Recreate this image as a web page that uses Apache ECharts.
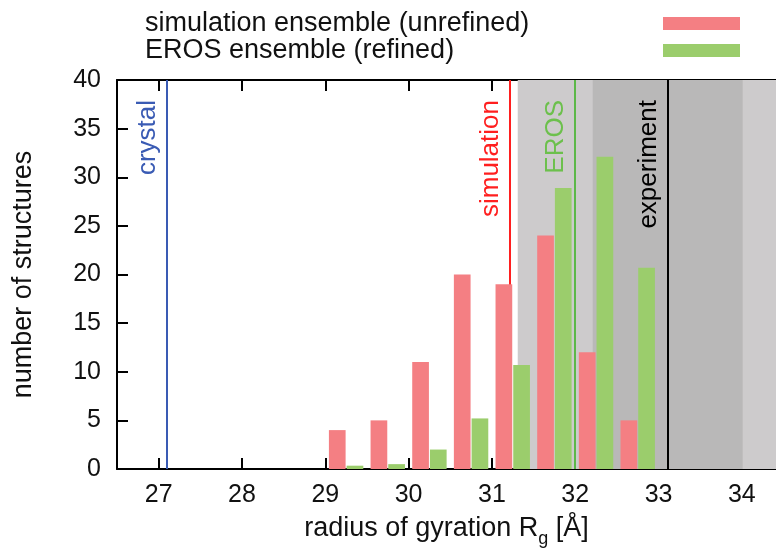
<!DOCTYPE html>
<html>
<head>
<meta charset="utf-8">
<script src="https://cdn.jsdelivr.net/npm/echarts@6/dist/echarts.min.js"></script>
<style>html,body{margin:0;padding:0;background:#fff}#c{width:776px;height:553px}</style>
</head>
<body>
<div id="c"></div>
<script>
// histogram bin centres (radius of gyration, Å)
const binCenters = [29.25, 29.75, 30.25, 30.75, 31.25, 31.75, 32.25, 32.75];
// number of structures per bin
const simCounts  = [4, 5, 11, 20, 19, 24, 12, 5];
const erosCounts = [0.34, 0.5, 2.0, 5.2, 10.7, 28.9, 32.1, 20.7];
// reference values
const refNames  = ['crystal', 'simulation', 'EROS', 'experiment'];
const refValues = [27.1, 31.22, 31.99, 33.11];
const refColors = ['#3a5bb4', '#ff1f1f', '#5cb848', '#000000'];
const refLabelColors = ['#3a5bb4', '#ff1f1f', '#6cc04c', '#000000'];
// experimental uncertainty bands (Å)
const expValue = 33.11;
const band1 = 0.9;
const band2 = 1.8;
const xRange = [26.5, 34.41];
const yRange = [0, 40];

const FONT = "'Liberation Sans', Arial, Helvetica, sans-serif";
const FS = 27;
const FS_TICK = 25;
const FS_REF = 26;

const chart = echarts.init(document.getElementById('c'), null, {renderer: 'canvas'});

const axisLineStyle = {color: '#000', width: 2};

const option = {
  animation: false,
  backgroundColor: '#fff',
  textStyle: {fontFamily: FONT, color: '#000'},
  grid: {left: 117, top: 80, right: 0, bottom: 84, containLabel: false},
  legend: {
    orient: 'vertical',
    left: 145,
    top: 10,
    padding: 0,
    itemGap: 0,
    align: 'right',
    icon: 'rect',
    itemWidth: 77,
    itemHeight: 13,
    selectedMode: false,
    formatter: function (name) { return '{t|' + name + '}'; },
    textStyle: {
      fontFamily: FONT, fontSize: FS, color: '#111',
      rich: {t: {fontFamily: FONT, fontSize: FS, color: '#111', width: 513, align: 'left', lineHeight: 27}}
    },
    data: ['simulation ensemble (unrefined)', 'EROS ensemble (refined)']
  },
  xAxis: [{
    type: 'value',
    min: xRange[0], max: xRange[1],
    minInterval: 1, maxInterval: 1, splitNumber: 8,
    position: 'bottom',
    axisLine: {show: true, onZero: false, lineStyle: axisLineStyle},
    axisTick: {show: true, inside: true, length: 11, lineStyle: {color: '#000', width: 2}},
    axisLabel: {show: true, fontFamily: FONT, fontSize: FS_TICK, color: '#111', margin: 14,
      showMinLabel: false, showMaxLabel: false},
    splitLine: {show: false},
    name: '{m|radius of gyration R}{s|g}{m| [Å]}',
    nameLocation: 'middle',
    nameGap: 46,
    nameTextStyle: {
      fontFamily: FONT, fontSize: FS, color: '#111',
      rich: {
        m: {fontFamily: FONT, fontSize: FS, color: '#111', lineHeight: 30, verticalAlign: 'top'},
        s: {fontFamily: FONT, fontSize: 18, color: '#111', lineHeight: 18, padding: [15, 0, 0, 0], verticalAlign: 'top'}
      }
    }
  }, {
    type: 'value',
    min: xRange[0], max: xRange[1],
    minInterval: 1, maxInterval: 1, splitNumber: 8,
    position: 'top',
    axisLine: {show: true, onZero: false, lineStyle: axisLineStyle},
    axisTick: {show: true, inside: true, length: 11, lineStyle: {color: '#000', width: 2}},
    axisLabel: {show: false},
    splitLine: {show: false}
  }],
  yAxis: [{
    type: 'value',
    min: yRange[0], max: yRange[1], interval: 5,
    position: 'left',
    axisLine: {show: true, onZero: false, lineStyle: axisLineStyle},
    axisTick: {show: true, inside: true, length: 11, lineStyle: {color: '#000', width: 2}},
    axisLabel: {fontFamily: FONT, fontSize: FS_TICK, color: '#111', margin: 16},
    splitLine: {show: false},
    name: 'number of structures',
    nameLocation: 'middle',
    nameGap: 80,
    nameTextStyle: {fontFamily: FONT, fontSize: FS, color: '#111'}
  }, {
    type: 'value',
    min: yRange[0], max: yRange[1], interval: 5,
    position: 'right',
    axisLine: {show: false},
    axisTick: {show: true, inside: true, length: 4, lineStyle: {color: '#000', width: 2}},
    axisLabel: {show: false},
    splitLine: {show: false}
  }],
  series: [
    {
      name: 'references',
      type: 'line',
      data: [],
      z: 1,
      silent: true,
      markArea: {
        silent: true,
        z: 0.5,
        data: [
          [{xAxis: expValue - band2, itemStyle: {color: '#cdcbcc'}}, {xAxis: expValue + band2}],
          [{xAxis: expValue - band1, itemStyle: {color: '#b9b8b8'}}, {xAxis: expValue + band1}]
        ]
      },
      markLine: {
        silent: true,
        z: 1.5,
        symbol: ['none', 'none'],
        animation: false,
        data: refValues.map((v, i) => ({
          xAxis: v,
          lineStyle: {color: refColors[i], width: 2, type: 'solid'},
          label: {
            show: true,
            formatter: refNames[i],
            position: 'insideEndTop',
            distance: [20, 6],
            fontFamily: FONT,
            fontSize: FS_REF,
            color: refLabelColors[i]
          }
        }))
      }
    },
    {
      name: 'simulation ensemble (unrefined)',
      type: 'bar',
      z: 2,
      barWidth: 16.7,
      barGap: '6%',
      itemStyle: {color: '#f47f83'},
      data: binCenters.map((b, i) => [b, simCounts[i]])
    },
    {
      name: 'EROS ensemble (refined)',
      type: 'bar',
      z: 2,
      barWidth: 16.7,
      barGap: '6%',
      itemStyle: {color: '#9bcd6c'},
      data: binCenters.map((b, i) => [b, erosCounts[i]])
    }
  ]
};
chart.setOption(option);
</script>
</body>
</html>
